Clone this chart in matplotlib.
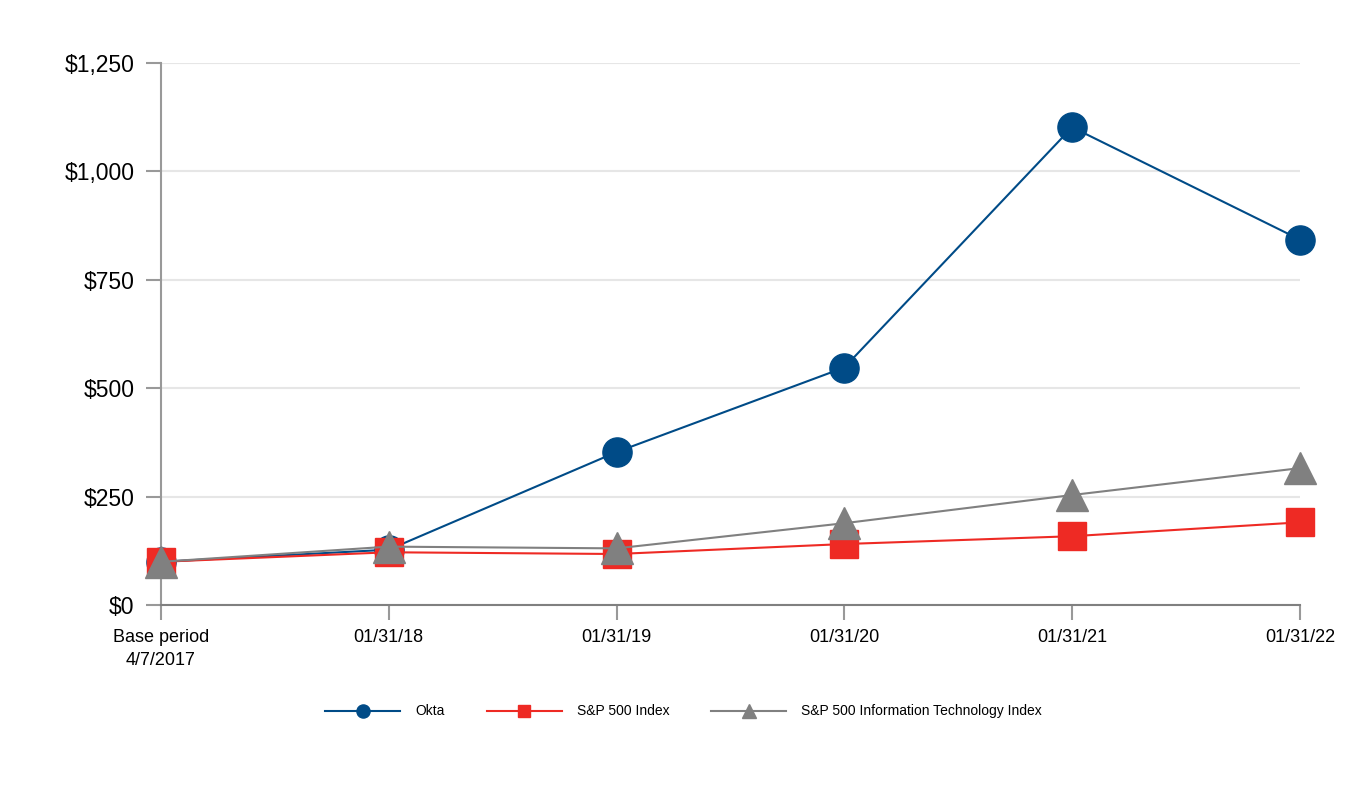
import matplotlib
matplotlib.use("Agg")
import matplotlib.pyplot as plt
from matplotlib.ticker import FuncFormatter

labels = ["Base period\n4/7/2017", "01/31/18", "01/31/19", "01/31/20", "01/31/21", "01/31/22"]
okta = [100, 128, 353, 548, 1102, 843]
sp500 = [100, 122, 118, 141, 159, 191]
sp500_it = [100, 135, 131, 189, 254, 316]

fig = plt.figure(figsize=(13.64, 7.88), dpi=100)
ax = fig.add_axes([0.118, 0.232, 0.835, 0.688])

x = range(len(labels))
ax.plot(x, okta, color="#004b87", lw=1.5, marker="o", ms=21, label="Okta", zorder=3)
ax.plot(x, sp500, color="#ee2a24", lw=1.5, marker="s", ms=20, label="S&P 500 Index", zorder=4)
ax.plot(x, sp500_it, color="#808080", lw=1.5, marker="^", ms=23,
        label="S&P 500 Information Technology Index", zorder=5)

ax.set_xlim(0, len(labels) - 1)
ax.set_ylim(0, 1250)
ax.set_yticks(range(0, 1251, 250))
ax.yaxis.set_major_formatter(FuncFormatter(lambda v, p: "${:,.0f}".format(v)))
ax.set_xticks(list(x))
ax.set_xticklabels(labels, linespacing=1.5)
ax.grid(axis="y", color="#e6e6e6", lw=1.5)
ax.set_axisbelow(True)

for s in ["top", "right"]:
    ax.spines[s].set_visible(False)
ax.spines["left"].set_color("#999999")
ax.spines["bottom"].set_color("#808080")
ax.spines["left"].set_linewidth(1.5)
ax.spines["bottom"].set_linewidth(1.5)
ax.tick_params(axis="y", length=11, width=1.5, color="#999999", labelsize=16.5, pad=8)
ax.tick_params(axis="x", length=11, width=1.5, color="#999999", labelsize=13, pad=6)
for lab in ax.get_xticklabels() + ax.get_yticklabels():
    lab.set_fontfamily("Liberation Sans")
for line in ax.get_lines():
    line.set_clip_on(False)

leg = ax.legend(loc="upper center", bbox_to_anchor=(0.459, -0.16), ncol=3, frameon=False,
                handlelength=5.4, markerscale=0.45, columnspacing=3.0, handletextpad=1.1,
                prop={"family": "Liberation Sans", "size": 10})

fig.savefig("out.png", dpi=100)
